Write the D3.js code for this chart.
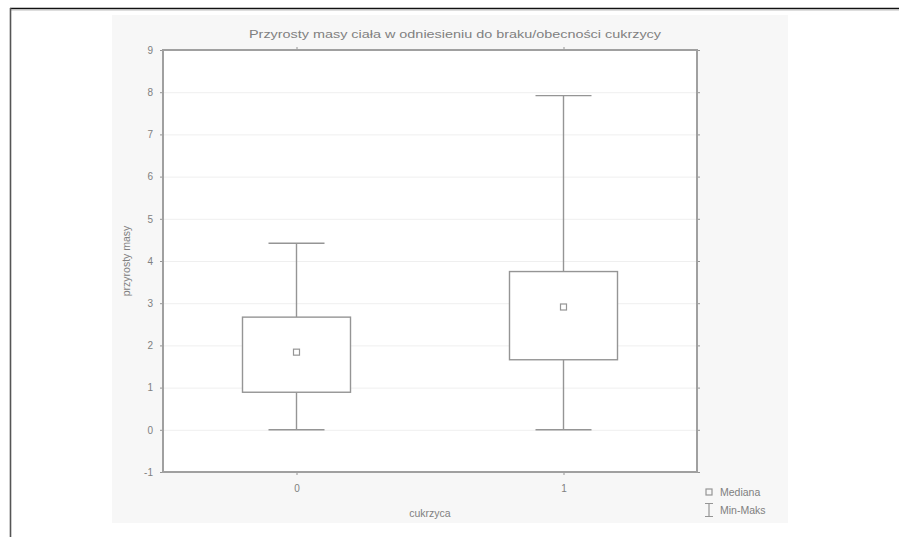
<!DOCTYPE html>
<html><head><meta charset="utf-8">
<script src="https://cdn.jsdelivr.net/npm/d3@7"></script>
<style>body{margin:0;background:#fff}svg{display:block}text{font-family:"Liberation Sans",Arial,sans-serif}</style>
</head><body>
<svg id="c" width="899" height="537"></svg>
<script>
const categories = ["0", "1"];
const mins = [0, 0];
const q1s = [0.89, 1.66];
const medians = [1.84, 2.91];
const q3s = [2.67, 3.75];
const maxs = [4.42, 7.92];
const yTicks = [-1, 0, 1, 2, 3, 4, 5, 6, 7, 8, 9];
const title = "Przyrosty masy ciała w odniesieniu do braku/obecności cukrzycy";
const xLabel = "cukrzyca";
const yLabel = "przyrosty masy";
const legendLabels = ["Mediana", "Min-Maks"];

const svg = d3.select("#c");
const txt = "#808080", stroke = "#959595";

// outer frame
svg.append("line").attr("x1",10).attr("x2",899).attr("y1",8.5).attr("y2",8.5).attr("stroke","#111").attr("stroke-width",1.5);
svg.append("line").attr("x1",10).attr("x2",899).attr("y1",10).attr("y2",10).attr("stroke","#bbb").attr("stroke-width",1);
svg.append("line").attr("x1",10.5).attr("x2",10.5).attr("y1",8).attr("y2",537).attr("stroke","#555").attr("stroke-width",1.6);

// chart background
svg.append("rect").attr("x",112).attr("y",15).attr("width",676).attr("height",508).attr("fill","#f7f7f7");

const L = 163, R = 697, T = 50, B = 472;
const x = d3.scalePoint().domain(categories).range([L, R]).padding(0.5);
const y = d3.scaleLinear().domain([-1, 9]).range([B, T]);

svg.append("rect").attr("x",L).attr("y",T).attr("width",R-L).attr("height",B-T).attr("fill","#fff");

// grid
svg.append("g").selectAll("line").data(yTicks.slice(1,-1)).join("line")
  .attr("x1",L).attr("x2",R).attr("y1",d=>y(d)+0.5).attr("y2",d=>y(d)+0.5)
  .attr("stroke","#efefef").attr("stroke-width",1);

// axes
const yAxis = svg.append("g").attr("transform",`translate(${L},0)`)
  .call(d3.axisLeft(y).tickValues(yTicks).tickSize(3).tickPadding(7).tickFormat(d=>String(d)));
const yAxisR = svg.append("g").attr("transform",`translate(${R},0)`)
  .call(d3.axisRight(y).tickValues(yTicks).tickSize(3).tickFormat(""));
const xAxis = svg.append("g").attr("transform",`translate(0,${B})`)
  .call(d3.axisBottom(x).tickSize(3).tickPadding(10));
const xAxisT = svg.append("g").attr("transform",`translate(0,${T})`)
  .call(d3.axisTop(x).tickSize(3).tickFormat(""));
[yAxis,yAxisR,xAxis,xAxisT].forEach(g=>{
  g.select(".domain").remove();
  g.selectAll(".tick line").attr("stroke",stroke);
  g.selectAll("text").attr("fill",txt).attr("font-size",10);
});
svg.append("rect").attr("x",L).attr("y",T).attr("width",R-L).attr("height",B-T)
  .attr("fill","none").attr("stroke","#a0a0a0").attr("stroke-width",2);

// boxes
const data = categories.map((c,i)=>({c,min:mins[i],q1:q1s[i],med:medians[i],q3:q3s[i],max:maxs[i]}));
const bw = 108, cw = 56;
const g = svg.append("g").attr("stroke",stroke).attr("stroke-width",1.4).attr("fill","none");
data.forEach(d=>{
  const cx = x(d.c);
  g.append("line").attr("x1",cx).attr("x2",cx).attr("y1",y(d.max)).attr("y2",y(d.q3));
  g.append("line").attr("x1",cx).attr("x2",cx).attr("y1",y(d.q1)).attr("y2",y(d.min));
  g.append("line").attr("x1",cx-cw/2).attr("x2",cx+cw/2).attr("y1",y(d.max)).attr("y2",y(d.max));
  g.append("line").attr("x1",cx-cw/2).attr("x2",cx+cw/2).attr("y1",y(d.min)).attr("y2",y(d.min));
  g.append("rect").attr("x",cx-bw/2).attr("y",y(d.q3)).attr("width",bw).attr("height",y(d.q1)-y(d.q3)).attr("fill","#fff");
  g.append("rect").attr("x",cx-3).attr("y",y(d.med)-3).attr("width",6).attr("height",6).attr("stroke-width",1.2);
});

// labels
svg.append("text").attr("x",455).attr("y",38).attr("text-anchor","middle").attr("font-size",11.5)
  .attr("fill",txt).attr("textLength",412).attr("lengthAdjust","spacingAndGlyphs").text(title);
svg.append("text").attr("x",(L+R)/2).attr("y",517).attr("text-anchor","middle").attr("font-size",10.5).attr("fill",txt).text(xLabel);
svg.append("text").attr("transform",`translate(130,${(T+B)/2}) rotate(-90)`).attr("text-anchor","middle")
  .attr("font-size",10.5).attr("fill",txt).text(yLabel);

// legend
const lg = svg.append("g");
lg.append("rect").attr("x",706).attr("y",489).attr("width",6).attr("height",6).attr("fill","none").attr("stroke",stroke).attr("stroke-width",1.2);
lg.append("path").attr("d","M705,503.5H713M709,503.5V516.5M705,516.5H713").attr("stroke",stroke).attr("stroke-width",1.2).attr("fill","none");
legendLabels.forEach((t,i)=>lg.append("text").attr("x",720).attr("y",496+i*18).attr("font-size",10.5).attr("fill",txt).text(t));
</script>
</body></html>
